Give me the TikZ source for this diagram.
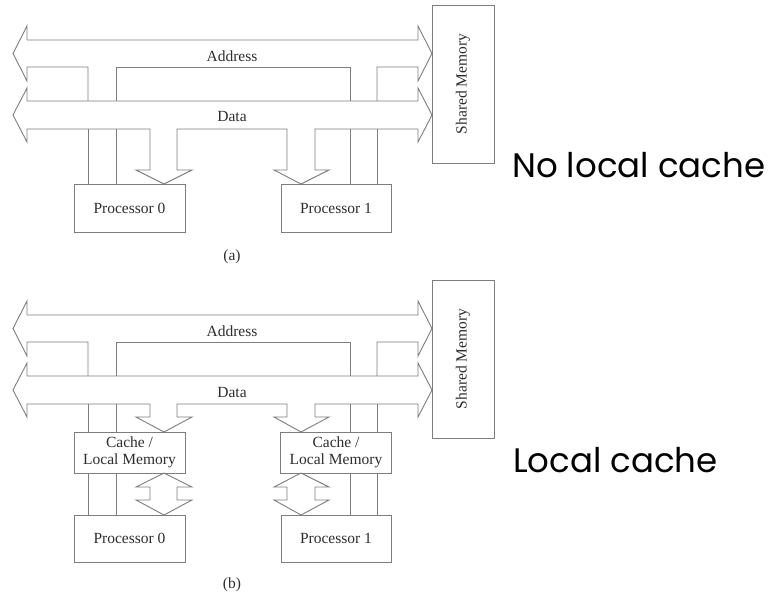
\documentclass[tikz,border=0pt]{standalone}
\usepackage{fontspec}
\setmainfont{Liberation Serif}
\newfontfamily\handfont{Poppins}
\definecolor{linegray}{RGB}{125,125,125}
\definecolor{textgray}{RGB}{45,45,45}
\begin{document}
\begin{tikzpicture}[x=1pt,y=-1pt,line join=miter,
  wire/.style={draw=linegray,line width=0.9pt},
  box/.style={draw=linegray,line width=0.9pt,fill=white,inner sep=0pt,
    align=center,text=textgray,font=\fontsize{15.5}{17}\selectfont},
  lbl/.style={inner sep=0pt,text=textgray,font=\fontsize{15.5}{17}\selectfont},
  note/.style={inner sep=0pt,anchor=base west,text=black,
    font=\handfont\fontsize{34}{38}\selectfont}]
\useasboundingbox (0,0) rectangle (770,596);

% ---------------- (a) no local cache ----------------
\node[box,minimum width=111pt,minimum height=48pt] (p0a) at (129.5,208) {Processor 0};
\node[box,minimum width=110pt,minimum height=48pt] (p1a) at (336,208) {Processor 1};
\node[box,minimum width=158pt,minimum height=62pt,rotate=90] (sma) at (463,84) {Shared Memory};

% address bus with stubs down to the data bus
\draw[wire] (27,40) -- (418,40) -- (418,26) -- (432,53.5) -- (418,81) -- (418,67)
  -- (377,67) -- (377,101);
\draw[wire] (350,101) -- (350,67) -- (116,67) -- (116,101);
\draw[wire] (88,101) -- (88,67) -- (27,67) -- (27,81) -- (13,53.5) -- (27,26) -- (27,40);
% data bus with arrows into the processors
\draw[wire] (27,101) -- (418,101) -- (418,88) -- (432,115) -- (418,142) -- (418,129)
  -- (315,129) -- (315,170) -- (329,170) -- (301,184) -- (274,170) -- (287,170) -- (287,129)
  -- (177,129) -- (177,170) -- (192,170) -- (164,184) -- (136,170) -- (150,170) -- (150,129)
  -- (27,129) -- (27,142) -- (13,115) -- (27,88) -- cycle;
% address lines from the bus to the processors
\foreach \x/\p in {88/p0a,116/p0a,350/p1a,377/p1a}{
  \coordinate (ta\x) at (\x,129);
  \draw[wire] (ta\x) -- (ta\x |- \p.north);
}
\node[lbl] (addra) at (232,56) {Address};
\node[lbl] (dataa) at (232,117) {Data};
\node[lbl] (capa) at (232,257) {(a)};
\node[note] (nola) at (512,177) {No local cache};

% ---------------- (b) local cache ----------------
\begin{scope}[shift={(0,275)}]
\node[box,minimum width=111pt,minimum height=41pt] (c0b) at (129.5,177.5) {Cache /\\Local Memory};
\node[box,minimum width=111pt,minimum height=41pt] (c1b) at (336,177.5) {Cache /\\Local Memory};
\node[box,minimum width=111pt,minimum height=47pt] (p0b) at (129.5,263.5) {Processor 0};
\node[box,minimum width=110pt,minimum height=47pt] (p1b) at (336,263.5) {Processor 1};
\node[box,minimum width=158pt,minimum height=62pt,rotate=90] (smb) at (463,84) {Shared Memory};

\draw[wire] (27,40) -- (418,40) -- (418,26) -- (432,53.5) -- (418,81) -- (418,67)
  -- (377,67) -- (377,101);
\draw[wire] (350,101) -- (350,67) -- (116,67) -- (116,101);
\draw[wire] (88,101) -- (88,67) -- (27,67) -- (27,81) -- (13,53.5) -- (27,26) -- (27,40);
\draw[wire] (27,101) -- (418,101) -- (418,88) -- (432,115) -- (418,142) -- (418,129)
  -- (315,129) -- (315,142) -- (329,142) -- (301,157) -- (274,142) -- (287,142) -- (287,129)
  -- (177,129) -- (177,142) -- (192,142) -- (164,157) -- (136,142) -- (150,142) -- (150,129)
  -- (27,129) -- (27,142) -- (13,115) -- (27,88) -- cycle;
% two-way arrows between each cache and its processor
\draw[wire] (164,198) -- (192,212) -- (177,212) -- (177,225) -- (192,225) -- (164,240)
  -- (136,225) -- (150,225) -- (150,212) -- (136,212) -- cycle;
\draw[wire] (301,198) -- (329,212) -- (315,212) -- (315,225) -- (329,225) -- (301,240)
  -- (274,225) -- (287,225) -- (287,212) -- (274,212) -- cycle;
% address lines: bus to cache, cache to processor
\foreach \x/\c/\p in {88/c0b/p0b,116/c0b/p0b,350/c1b/p1b,377/c1b/p1b}{
  \coordinate (tb\x) at (\x,129);
  \draw[wire] (tb\x) -- (tb\x |- \c.north);
  \draw[wire] (tb\x |- \c.south) -- (tb\x |- \p.north);
}
\node[lbl] (addrb) at (232,56) {Address};
\node[lbl] (datab) at (232,117) {Data};
\node[lbl] (capb) at (232,310) {(b)};
\node[note] (nolb) at (513,197) {Local cache};
\end{scope}
\end{tikzpicture}
\end{document}
